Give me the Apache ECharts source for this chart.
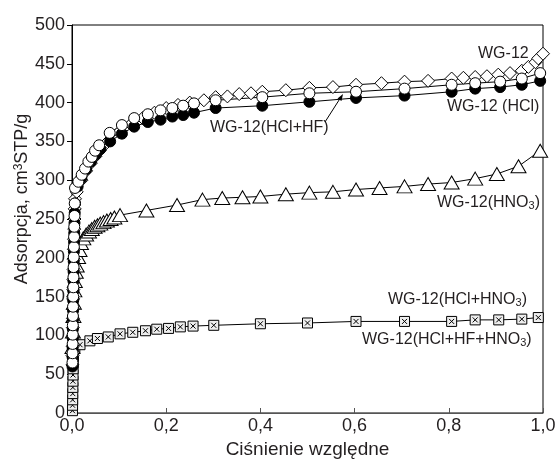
<!DOCTYPE html>
<html>
<head>
<meta charset="utf-8">
<script src="https://cdn.jsdelivr.net/npm/echarts@6/dist/echarts.min.js"></script>
<style>
  html, body { margin: 0; padding: 0; background: #fff; }
  #container { width: 556px; height: 459px; }
</style>
</head>
<body>
<div id="container"></div>
<script>
// tick labels
const xTickLabels = ['0,0', '0,2', '0,4', '0,6', '0,8', '1,0'];
const yTickLabels = ['0', '50', '100', '150', '200', '250', '300', '350', '400', '450', '500'];

// WG-12 (diamonds)
const wg12P = [0.0010, 0.0012, 0.0014, 0.0016, 0.0018, 0.0020, 0.0022, 0.0025, 0.0028, 0.0031, 0.0034, 0.0037, 0.0040, 0.0044, 0.0048, 0.0053, 0.0058, 0.0064,
    0.010, 0.020, 0.030, 0.040, 0.050, 0.060, 0.075, 0.100, 0.125, 0.150, 0.175, 0.200, 0.225, 0.250, 0.280, 0.305, 0.330, 0.355, 0.380, 0.404,
    0.454, 0.504, 0.554, 0.603, 0.657, 0.706, 0.756, 0.806, 0.831, 0.856, 0.881, 0.905, 0.930, 0.955, 0.969, 0.984, 0.990, 1.000];
const wg12Y = [62, 74, 86, 98, 110, 122, 134, 147, 159, 172, 185, 198, 211, 224, 237, 250, 263, 276,
    285, 300, 312, 322, 331, 339, 349, 362, 372, 380, 387, 393, 397, 400, 403, 407, 408, 411, 412, 414,
    416, 419, 420, 423, 425, 427, 428, 431, 432, 433, 434, 436, 438, 441, 446, 452, 457, 463];

// WG-12(HCl+HF) (open circles)
const hclhfP = [0.0010, 0.0012, 0.0014, 0.0016, 0.0018, 0.0020, 0.0022, 0.0025, 0.0028, 0.0031, 0.0034, 0.0037, 0.0040, 0.0044, 0.0048, 0.0053, 0.0058, 0.0064,
    0.0135, 0.0206, 0.0277, 0.0348, 0.042, 0.049, 0.0576, 0.080, 0.106, 0.132, 0.161, 0.188, 0.213, 0.236, 0.259, 0.305,
    0.404, 0.504, 0.603, 0.706, 0.806, 0.856, 0.909, 0.955, 0.994];
const hclhfY = [65, 77, 89, 101, 113, 125, 137, 150, 162, 175, 188, 201, 214, 227, 240, 254, 270, 290,
    298, 307, 315, 324, 330, 338, 345, 361, 371, 380, 385, 390, 393, 396, 399, 403,
    407, 412, 414, 418, 423, 425, 427, 431, 438];

// WG-12 (HCl) (filled circles)
const hclP = [0.0010, 0.0012, 0.0014, 0.0016, 0.0018, 0.0020, 0.0022, 0.0025, 0.0028, 0.0031, 0.0034, 0.0037, 0.0040, 0.0044, 0.0048, 0.0053, 0.0058, 0.0064,
    0.012, 0.020, 0.030, 0.040, 0.050, 0.060, 0.081, 0.106, 0.132, 0.161, 0.188, 0.213, 0.236, 0.259, 0.305,
    0.404, 0.504, 0.603, 0.706, 0.806, 0.856, 0.909, 0.955, 0.994];
const hclY = [60, 72, 84, 96, 108, 120, 132, 145, 157, 170, 182, 195, 208, 220, 232, 245, 258, 270,
    292, 303, 314, 324, 333, 340, 350, 360, 369, 375, 378, 382, 384, 387, 393,
    396, 401, 406, 409, 414, 418, 420, 423, 428];

// WG-12(HNO3) (triangles)
const hno3P = [0.001, 0.002, 0.003, 0.004, 0.005, 0.006, 0.008, 0.010, 0.013, 0.016, 0.019, 0.024, 0.030, 0.036, 0.042, 0.048, 0.054, 0.060,
    0.067, 0.074, 0.082, 0.090, 0.102, 0.158, 0.223, 0.277, 0.319, 0.362, 0.400, 0.454, 0.504, 0.554, 0.603, 0.653, 0.706, 0.756,
    0.806, 0.856, 0.902, 0.948, 0.994];
const hno3Y = [85, 105, 125, 142, 158, 170, 182, 190, 201, 210, 219, 225, 230, 234, 237, 240, 242, 244,
    246, 248, 250, 252, 255, 261, 268, 275, 277, 278, 279, 282, 284, 285, 288, 290, 292, 295,
    297, 302, 308, 318, 338];

// WG-12(HCl+HNO3) / WG-12(HCl+HF+HNO3) (boxed crosses)
const hclhno3P = [0.0010, 0.0012, 0.0014, 0.0016, 0.0018, 0.0020, 0.0022, 0.0024, 0.0026, 0.0030, 0.006, 0.017, 0.038, 0.054, 0.077, 0.102,
    0.129, 0.156, 0.180, 0.205, 0.230, 0.257, 0.301, 0.400, 0.500, 0.603, 0.706, 0.806, 0.856, 0.906, 0.955, 0.990];
const hclhno3Y = [3, 10, 17, 25, 33, 41, 49, 57, 65, 73, 83, 88, 93, 96, 98, 102,
    104, 106, 108, 109, 111, 112, 113, 115, 116, 118, 118, 118, 120, 120, 121, 123];

function pairs(xs, ys) {
    return xs.map((x, i) => [x, ys[i]]);
}

const FONT = '"Liberation Sans", Arial, Helvetica, sans-serif';
const TXT = '#231f20';

var dom = document.getElementById('container');
var myChart = echarts.init(dom);

function mkSeries(name, xs, ys, symbol, size, fill) {
    return {
        name: name,
        type: 'line',
        data: pairs(xs, ys),
        symbol: symbol,
        symbolSize: size,
        showAllSymbol: true,
        lineStyle: { color: '#000', width: 1 },
        itemStyle: { color: fill, borderColor: '#000', borderWidth: 1 },
        emphasis: { disabled: true },
        silent: true
    };
}

const boxCross = 'path://M0,0H10V10H0Z M2.5,2.5L7.5,7.5 M7.5,2.5L2.5,7.5';

// text label with rich sub/superscripts
function label(x, y, parts) {
    return {
        type: 'text',
        x: x,
        y: y,
        style: {
            text: parts,
            fill: TXT,
            font: '16px ' + FONT,
            align: 'left',
            verticalAlign: 'middle',
            rich: {
                a: { fontSize: 16, fontFamily: FONT, fill: TXT },
                s: { fontSize: 11, fontFamily: FONT, fill: TXT, verticalAlign: 'bottom', padding: [6, 0, 0, 0] }
            }
        }
    };
}

var option = {
    animation: false,
    backgroundColor: '#fff',
    grid: {
        left: 72, right: 13, top: 25, bottom: 46,
        outerBoundsMode: 'none',
        show: true, borderColor: '#000', borderWidth: 1
    },
    xAxis: {
        type: 'value',
        min: 0, max: 1, interval: 0.2,
        name: 'Ciśnienie względne',
        nameLocation: 'middle',
        nameGap: 25,
        nameTextStyle: { fontFamily: FONT, fontSize: 19, color: TXT },
        axisLine: { lineStyle: { color: '#555', width: 1 } },
        axisTick: { inside: true, length: 5, lineStyle: { color: '#555' } },
        axisLabel: {
            fontFamily: FONT, fontSize: 18, color: TXT, margin: 4,
            formatter: (v) => xTickLabels[Math.round(v / 0.2)]
        },
        splitLine: { show: false }
    },
    yAxis: {
        type: 'value',
        min: 0, max: 500, interval: 50,
        axisLine: { show: true, lineStyle: { color: '#000', width: 1 } },
        axisTick: { show: true, inside: false, length: 5, lineStyle: { color: '#000' } },
        axisLabel: {
            fontFamily: FONT, fontSize: 18, color: TXT, margin: 7,
            formatter: (v) => yTickLabels[Math.round(v / 50)]
        },
        splitLine: { show: false }
    },
    graphic: [
        {
            type: 'text',
            x: 22, y: 199,
            rotation: Math.PI / 2,
            style: {
                text: '{a|Adsorpcja, cm}{p|3}{a|STP/g}',
                fill: TXT,
                align: 'center',
                verticalAlign: 'middle',
                rich: {
                    a: { fontSize: 18, fontFamily: FONT, fill: TXT },
                    p: { fontSize: 12, fontFamily: FONT, fill: TXT, verticalAlign: 'top', padding: [0, 0, 6, 0] }
                }
            }
        },
        label(478, 54, '{a|WG-12}'),
        label(447, 107, '{a|WG-12 (HCl)}'),
        label(210, 128, '{a|WG-12(HCl+HF)}'),
        label(437, 203, '{a|WG-12(HNO}{s|3}{a|)}'),
        label(388, 300, '{a|WG-12(HCl+HNO}{s|3}{a|)}'),
        label(362, 340, '{a|WG-12(HCl+HF+HNO}{s|3}{a|)}'),
        {
            type: 'line',
            shape: { x1: 325, y1: 122, x2: 341, y2: 97 },
            style: { stroke: '#000', lineWidth: 1 }
        },
        {
            type: 'polygon',
            shape: { points: [[343, 94], [337.5, 98.5], [341.5, 101]] },
            style: { fill: '#000' }
        }
    ],
    series: [
        mkSeries('WG-12(HCl+HNO3)', hclhno3P, hclhno3Y, boxCross, 10, '#eeeeee'),
        mkSeries('WG-12(HNO3)', hno3P, hno3Y, 'triangle', [15, 13], '#fff'),
        mkSeries('WG-12', wg12P, wg12Y, 'diamond', [13, 13], '#fff'),
        mkSeries('WG-12 (HCl)', hclP, hclY, 'circle', 11, '#000'),
        mkSeries('WG-12(HCl+HF)', hclhfP, hclhfY, 'circle', 11, '#fff')
    ]
};

if (option && typeof option === 'object') {
    myChart.setOption(option);
}
window.addEventListener('resize', myChart.resize);
</script>
</body>
</html>
